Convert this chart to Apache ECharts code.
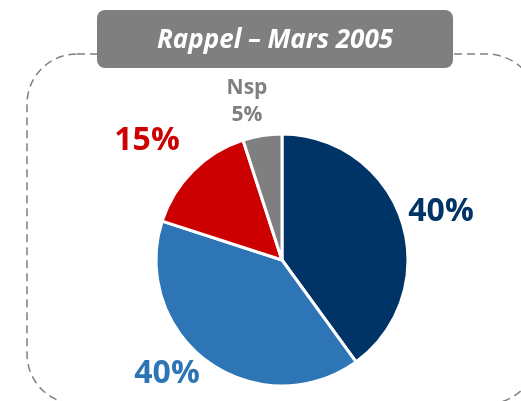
<!DOCTYPE html>
<html>
<head>
<meta charset="utf-8">
<script src="https://cdn.jsdelivr.net/npm/echarts@6/dist/echarts.min.js"></script>
<style>
html, body { margin: 0; padding: 0; background: #fff; }
#main { width: 521px; height: 401px; }
</style>
</head>
<body>
<div id="main"></div>
<script>
// données
var titre = 'Rappel – Mars 2005';
var categories = ['Oui', 'Non', 'Autre', 'Nsp'];
var valeurs = [40, 40, 15, 5];
var etiquettes = ['40%', '40%', '15%', 'Nsp\n5%'];

var couleurs = ['#003366', '#2e75b6', '#cc0000', '#7f7f7f'];
// centre des étiquettes (px)
var posEtiquettes = [[441, 212], [167, 374], [147, 141], [247, 102]];
var tailles = [32, 32, 32, 21];

var myChart = echarts.init(document.getElementById('main'));

var data = categories.map(function (c, i) {
    return {
        name: c,
        value: valeurs[i],
        itemStyle: { color: couleurs[i] },
        label: {
            formatter: etiquettes[i],
            color: couleurs[i],
            fontSize: tailles[i],
            lineHeight: i === 3 ? 27 : 40
        }
    };
});

myChart.setOption({
    animation: false,
    graphic: [
        {
            type: 'rect',
            z: 1,
            shape: { x: 27, y: 54, width: 510, height: 350, r: 50 },
            style: { fill: 'none', stroke: '#7f7f7f', lineWidth: 1.5, lineDash: [8, 5] }
        },
        {
            type: 'rect',
            z: 2,
            shape: { x: 97, y: 10, width: 356, height: 58, r: 8 },
            style: { fill: '#7f7f7f' }
        },
        {
            type: 'text',
            z: 3,
            x: 275,
            y: 41,
            style: {
                text: titre,
                fill: '#fff',
                font: 'italic bold 26px "Open Sans"',
                align: 'center',
                verticalAlign: 'middle'
            }
        }
    ],
    series: [
        {
            type: 'pie',
            center: [282, 260],
            radius: 126,
            startAngle: 90,
            clockwise: true,
            itemStyle: { borderColor: '#fff', borderWidth: 3 },
            label: {
                show: true,
                position: 'outside',
                fontFamily: 'Open Sans',
                fontWeight: 'bold',
                align: 'center',
                overflow: 'none'
            },
            labelLine: { show: false },
            labelLayout: function (params) {
                var p = posEtiquettes[params.dataIndex];
                return { x: p[0], y: p[1], align: 'center', verticalAlign: 'middle' };
            },
            emphasis: { disabled: true },
            data: data
        }
    ]
});
</script>
</body>
</html>
